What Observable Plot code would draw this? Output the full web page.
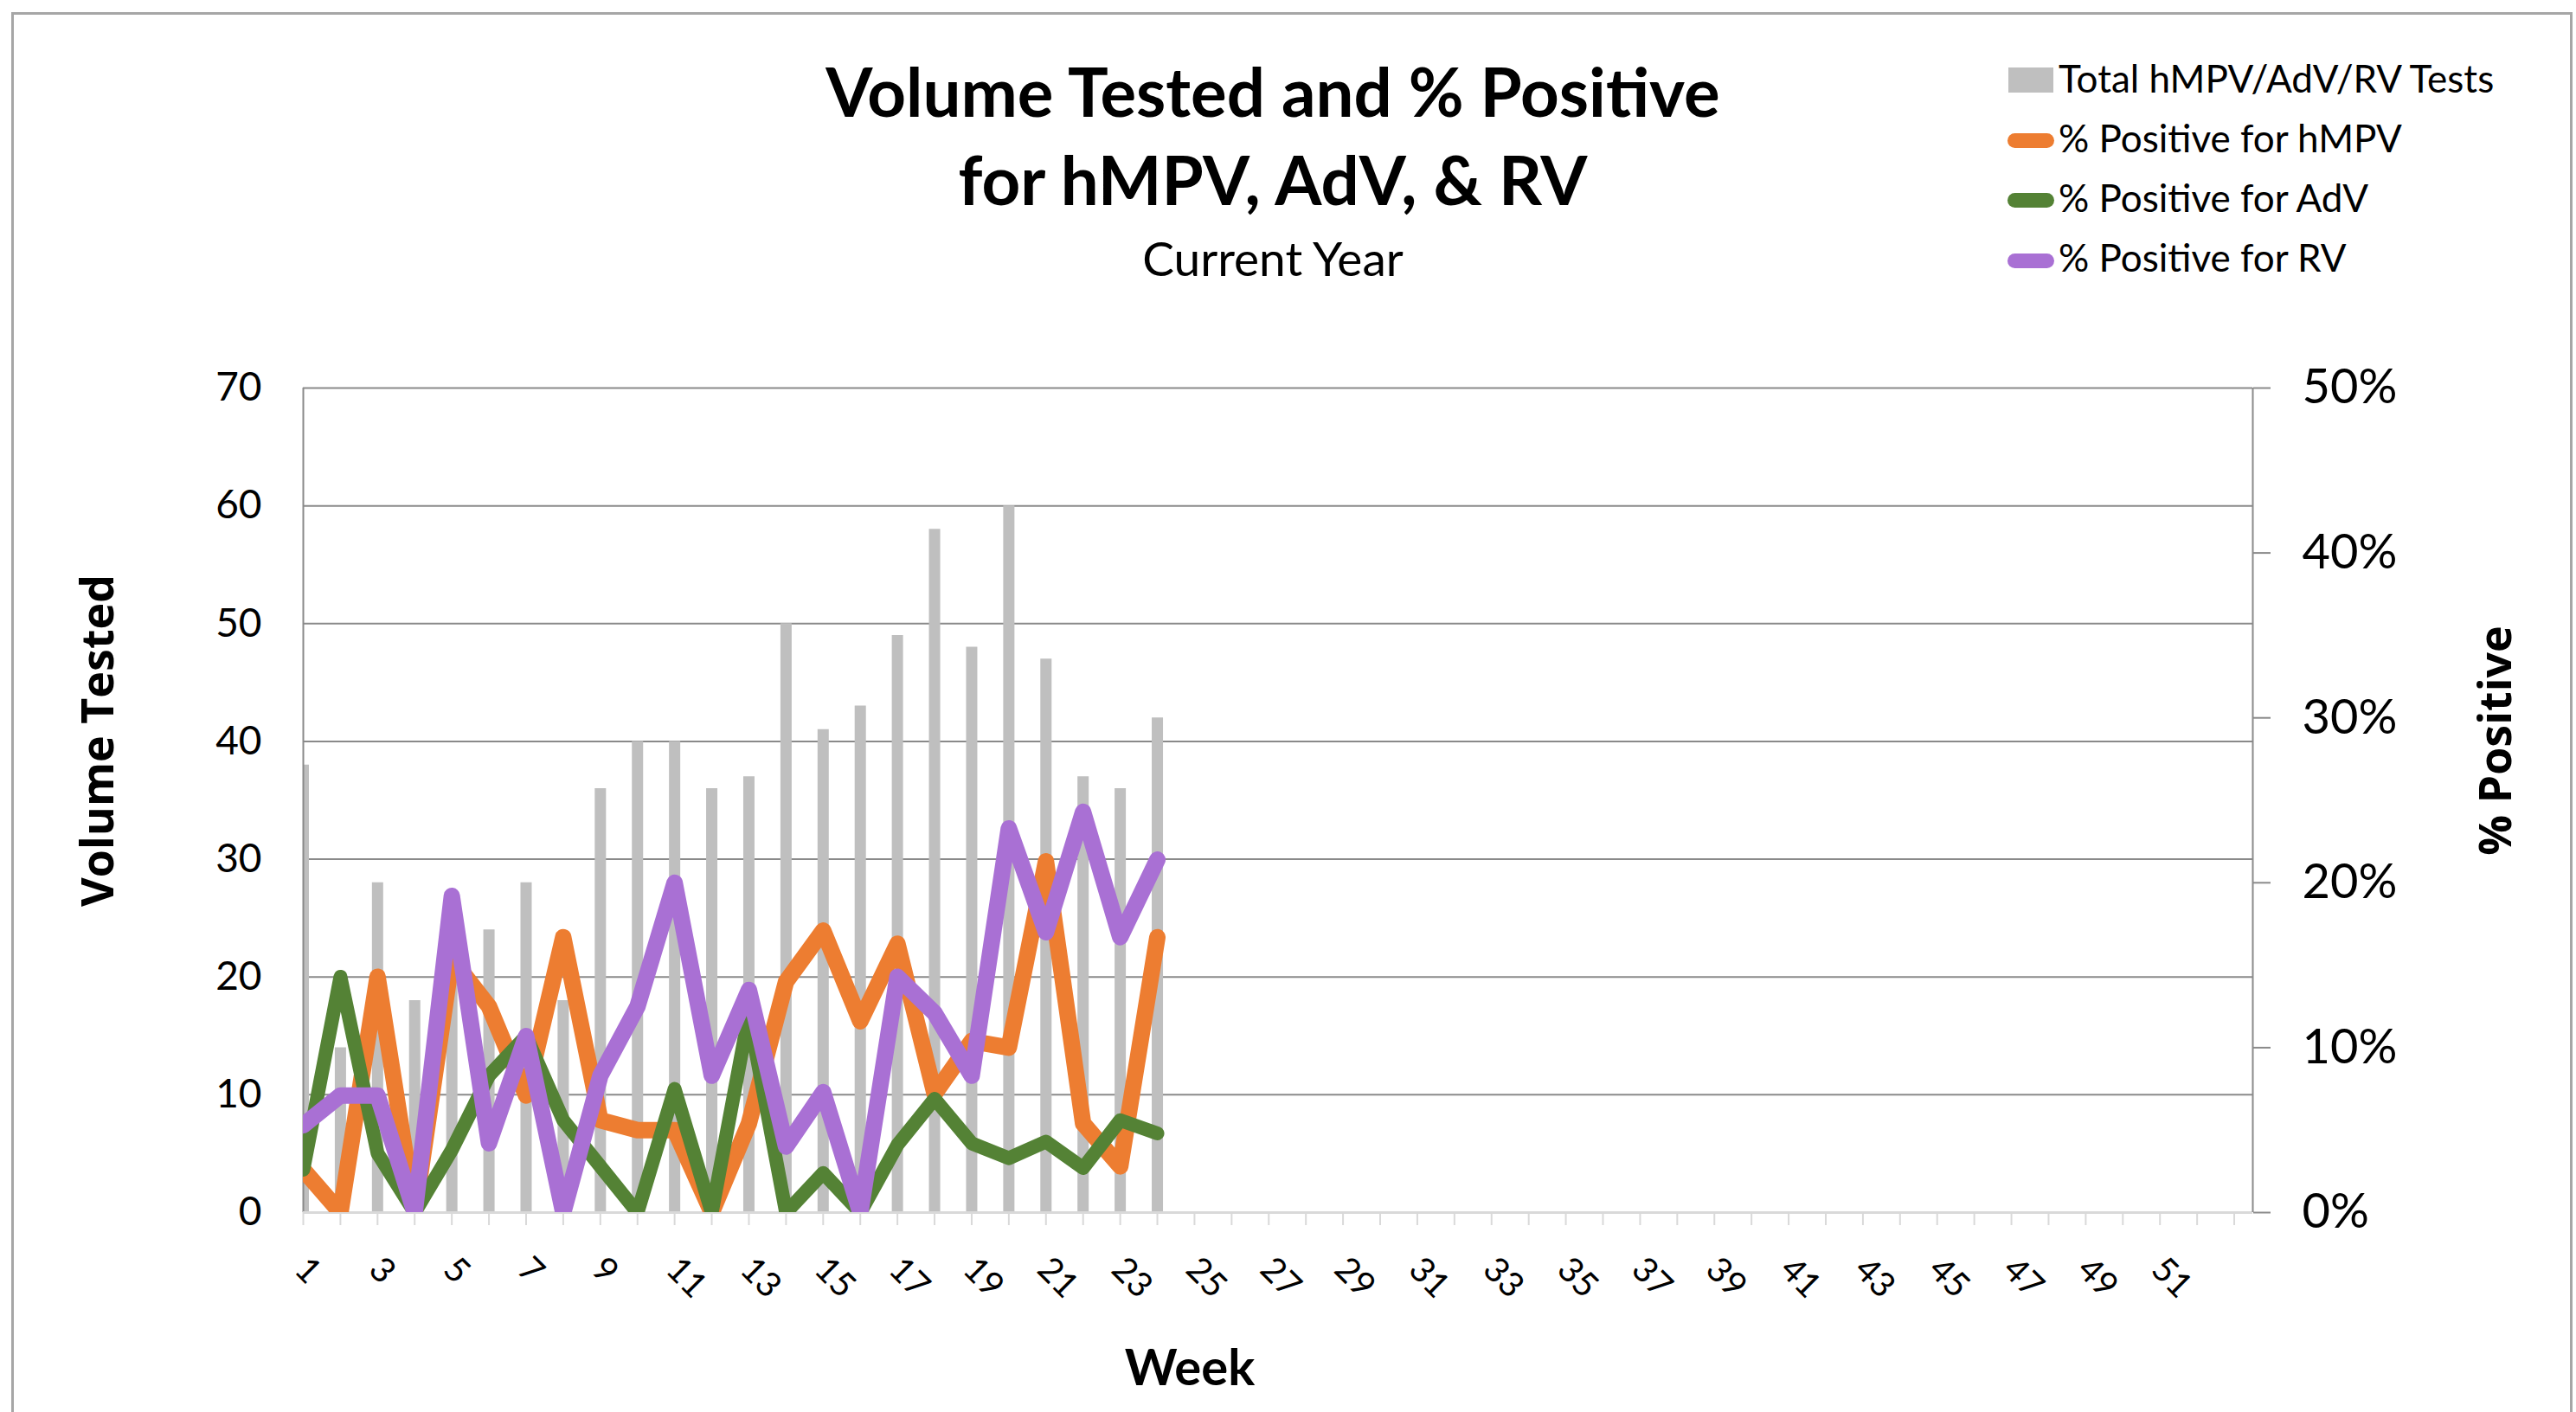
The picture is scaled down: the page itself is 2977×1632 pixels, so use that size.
<!DOCTYPE html>
<html>
<head>
<meta charset="utf-8">
<script src="https://cdn.jsdelivr.net/npm/d3@7"></script>
<script src="https://cdn.jsdelivr.net/npm/@observablehq/plot@0.6"></script>
<style>
html, body { margin: 0; padding: 0; background: #fff; }
#chart { position: relative; width: 2977px; height: 1632px; overflow: hidden; background: #fff; font-family: Lato, sans-serif; color: #000; }
.abs { position: absolute; white-space: nowrap; line-height: 1; }
.layer { position: absolute; left: 0; top: 0; }
.rot { position: absolute; white-space: nowrap; line-height: 1; font-family: "Open Sans", sans-serif; font-weight: 700; font-size: 52px; transform: translate(-50%, -50%) rotate(-90deg); }
</style>
</head>
<body>
<div id="chart">
  <div class="abs" style="left:13px;top:14px;width:2954px;height:1700px;border:3px solid #a6a6a6;"></div>
  <div class="abs" style="left:671px;width:1600px;text-align:center;top:66px;font-weight:700;font-size:78px;">Volume Tested and % Positive</div>
  <div class="abs" style="left:671px;width:1600px;text-align:center;top:168px;font-weight:700;font-size:78px;">for hMPV, AdV, &amp; RV</div>
  <div class="abs" style="left:671px;width:1600px;text-align:center;top:271px;font-size:55px;">Current Year</div>

  <div class="abs" style="left:2321px;top:78px;width:52px;height:29px;background:#bfbfbf;"></div>
  <div class="abs" style="left:2320px;top:154px;width:54px;height:17px;border-radius:9px;background:#ED7D31;"></div>
  <div class="abs" style="left:2320px;top:223px;width:54px;height:17px;border-radius:9px;background:#548235;"></div>
  <div class="abs" style="left:2320px;top:293px;width:54px;height:17px;border-radius:9px;background:#A970D4;"></div>
  <div class="abs" style="left:2379px;top:68px;font-size:44px;">Total hMPV/AdV/RV Tests</div>
  <div class="abs" style="left:2379px;top:137px;font-size:44px;">% Positive for hMPV</div>
  <div class="abs" style="left:2379px;top:206px;font-size:44px;">% Positive for AdV</div>
  <div class="abs" style="left:2379px;top:275px;font-size:44px;">% Positive for RV</div>

  <div class="rot" style="left:111px;top:856px;">Volume Tested</div>
  <div class="rot" style="left:2882px;top:856px;">% Positive</div>
  <div class="abs" style="left:1175px;width:400px;text-align:center;top:1550px;font-weight:700;font-size:58px;">Week</div>
</div>
<script>
// Data
const weeks = [1,2,3,4,5,6,7,8,9,10,11,12,13,14,15,16,17,18,19,20,21,22,23,24];
const totalTests = [38,14,28,18,26,24,28,18,36,40,40,36,37,50,41,43,49,58,48,60,47,37,36,42];
const pctHMPV = [2.6,0,14.3,0,15.4,12.5,7.1,16.7,5.6,5.0,5.0,0,5.4,14.0,17.1,11.6,16.3,7.2,10.4,10.0,21.3,5.4,2.8,16.7];
const pctAdV  = [2.6,14.3,3.6,0,3.8,8.3,10.7,5.6,2.8,0,7.5,0,12.0,0,2.4,0,4.1,6.9,4.2,3.3,4.3,2.7,5.6,4.8];
const pctRV   = [5.3,7.1,7.1,0,19.2,4.2,10.7,0,8.3,12.5,20.0,8.3,13.5,4.0,7.3,0,14.3,12.1,8.3,23.3,17.0,24.3,16.7,21.4];
const volumeTicks = [0,10,20,30,40,50,60,70];
const pctTicks = [0,10,20,30,40,50];
const allWeeks = d3.range(1, 54);
const labelWeeks = d3.range(1, 52, 2);

const data = weeks.map((w, i) => ({week: w, total: totalTests[i], hmpv: pctHMPV[i], adv: pctAdV[i], rv: pctRV[i]}));

const W = 2977, H = 1632;
const frame = {marginLeft: 350, marginRight: W - 2603, marginTop: 448, marginBottom: H - 1401};
const xDomain = [1, 53.5];
const gridColor = "#8a8a8a";

const p1 = Plot.plot({
  width: W, height: H, ...frame,
  style: {background: "transparent", fontFamily: "Lato, sans-serif", overflow: "visible", color: "#000"},
  x: {domain: xDomain, axis: null, label: null},
  y: {domain: [0, 70], axis: null, label: null},
  marks: [
    Plot.gridY(volumeTicks.filter(d => d > 0), {stroke: gridColor, strokeOpacity: 1, strokeWidth: 2}),
    Plot.ruleX(data, {x: "week", y1: 0, y2: "total", stroke: "#bfbfbf", strokeWidth: 13, clip: true}),
    Plot.ruleX([xDomain[0]], {stroke: gridColor, strokeWidth: 2}),
    Plot.ruleY([0], {stroke: "#d9d9d9", strokeWidth: 3}),
    Plot.axisX(allWeeks, {tickSize: 15, tickFormat: () => "", stroke: "#d9d9d9", strokeWidth: 2, label: null}),
    Plot.axisY(volumeTicks, {anchor: "left", tickSize: 0, tickPadding: 48, fontSize: 46, fill: "#000", label: null}),
    Plot.text(labelWeeks, {x: d => d, frameAnchor: "bottom", text: d => String(d), rotate: 45,
      textAnchor: "start", lineAnchor: "bottom", dx: -12, dy: 68, fontSize: 40, fill: "#000"})
  ]
});
p1.classList.add("layer");

const lineOpts = {x: "week", strokeLinecap: "round", strokeLinejoin: "round", clip: true};
const p2 = Plot.plot({
  width: W, height: H, ...frame,
  style: {background: "transparent", fontFamily: "Lato, sans-serif", overflow: "visible", color: "#000"},
  x: {domain: xDomain, axis: null, label: null},
  y: {domain: [0, 50], axis: null, label: null},
  marks: [
    Plot.ruleX([xDomain[1]], {stroke: gridColor, strokeWidth: 2}),
    Plot.axisY(pctTicks, {anchor: "right", tickSize: 20, tickPadding: 37, tickFormat: d => d + "%",
      fontSize: 56, stroke: gridColor, strokeWidth: 2, fill: "#000", label: null}),
    Plot.line(data, {...lineOpts, y: "hmpv", stroke: "#ED7D31", strokeWidth: 19}),
    Plot.line(data, {...lineOpts, y: "adv", stroke: "#548235", strokeWidth: 16}),
    Plot.line(data, {...lineOpts, y: "rv", stroke: "#A970D4", strokeWidth: 19})
  ]
});
p2.classList.add("layer");

const chart = document.getElementById("chart");
chart.appendChild(p1);
chart.appendChild(p2);
</script>
</body>
</html>
